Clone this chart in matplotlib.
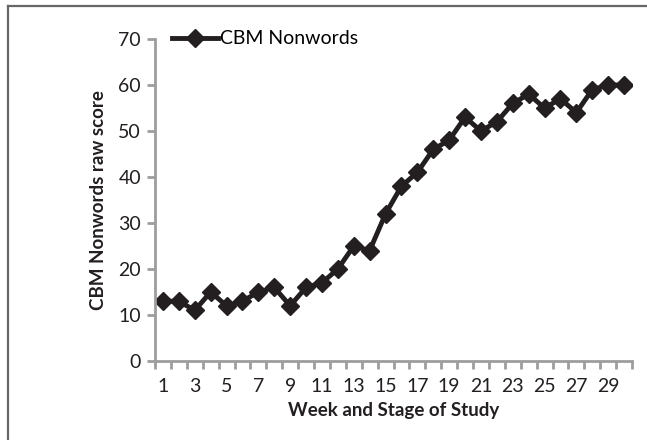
import matplotlib
matplotlib.use("Agg")
import matplotlib.pyplot as plt
from matplotlib.lines import Line2D
import numpy as np

weeks = list(range(1, 31))
scores = [13, 13, 11, 15, 12, 13, 15, 16, 12, 16, 17, 20, 25, 24, 32,
          38, 41, 46, 48, 53, 50, 52, 56, 58, 55, 57, 54, 59, 60, 60]
series_name = "CBM Nonwords"
xlabel = "Week and Stage of Study"
ylabel = "CBM Nonwords raw score"
xtick_labels = [str(w) for w in weeks[::2]]

plt.rcParams['font.family'] = ['Lato', 'DejaVu Sans']
fig = plt.figure(figsize=(6.47, 4.40), dpi=100)
ax = fig.add_axes([155/647, 1-361/440, (632-155)/647, (361-39)/440])

ax.plot(weeks, scores, color='#231f20', lw=3.5, marker='D', ms=9,
        label=series_name)
ax.set_xlim(0.5, 30.5)
ax.set_ylim(0, 70)
ax.set_yticks(range(0, 71, 10))
ax.set_xticks(weeks[::2])
ax.set_xticklabels(xtick_labels)
ax.set_xticks(np.arange(0.5, 31, 1), minor=True)

gray = '#9d9d9d'
for s in ['top', 'right']:
    ax.spines[s].set_visible(False)
for s in ['left', 'bottom']:
    ax.spines[s].set_color(gray)
    ax.spines[s].set_linewidth(2)
ax.tick_params(axis='y', which='major', length=6, width=2, color=gray,
               labelsize=14, labelcolor='#231f20', pad=4)
ax.tick_params(axis='x', which='major', length=0, labelsize=14,
               labelcolor='#231f20', pad=12)
ax.tick_params(axis='x', which='minor', length=6, width=2, color=gray)

ax.set_xlabel(xlabel, fontsize=13.5, fontweight='bold', color='#231f20', labelpad=5)
ax.set_ylabel(ylabel, fontsize=13.5, fontweight='bold', color='#231f20', labelpad=8)

leg = ax.legend(loc='center left', bbox_to_anchor=(0.035, 1.0), frameon=False,
                fontsize=14, handlelength=2.4, handletextpad=0.1,
                borderaxespad=0, borderpad=0)

fig.add_artist(Line2D([7.5/647, 7.5/647], [0, 1-6.5/440], transform=fig.transFigure,
                      color='#666666', lw=1.6))
fig.add_artist(Line2D([7.5/647, 1], [1-6.5/440, 1-6.5/440], transform=fig.transFigure,
                      color='#666666', lw=1.6))

fig.savefig('out.png', dpi=100)
